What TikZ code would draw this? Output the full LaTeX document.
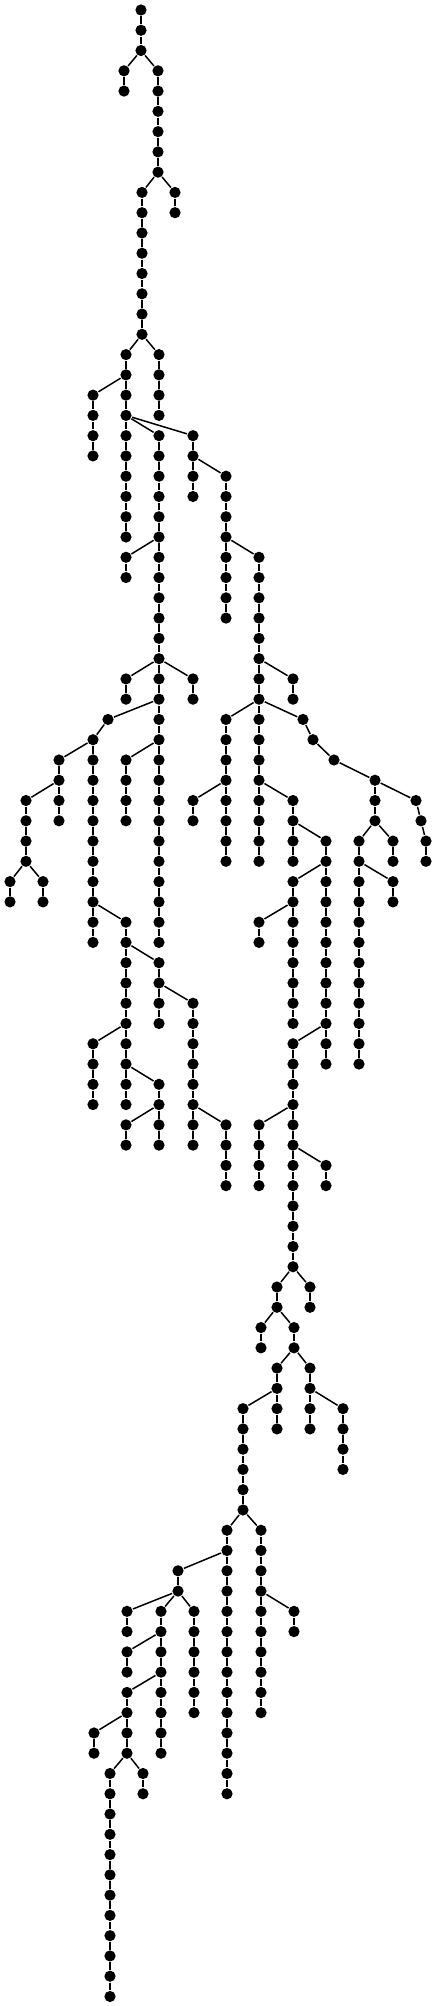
\documentclass[tikz,border=0pt]{standalone}
\usepackage{tikz}

\begin{document}
\begin{tikzpicture}[x=0.5pt, y=0.5pt, line width=0.75pt,
  dot/.style={circle, fill=black, draw=none, inner sep=0pt, minimum size=5.6pt}]
\useasboundingbox (0,0) rectangle (436,-2006);

% Nodes, one vertical run per entry: column / first level / last level
\foreach \c/\f/\t in {141/0/2, 124/3/4, 158/3/8, 175/9/10, 142/9/16,
    159/17/20, 126/17/26, 93/19/22, 159/21/46, 193/21/24, 226/23/30,
    126/27/28, 259/27/42, 126/33/34, 193/33/34, 293/33/34, 108/35/35,
    93/36/46, 59/37/40, 26/39/42, 10/43/44, 43/43/44, 126/37/40,
    226/35/42, 193/39/40, 303/35/35, 313/36/36, 334/37/37, 375/38/40,
    416/39/39, 421/40/40, 426/41/42, 293/39/42, 326/41/52, 293/43/50,
    259/45/46, 359/41/52, 393/41/42, 393/43/44, 126/45/54, 159/47/50,
    193/49/56, 93/51/54, 159/53/56, 126/55/56, 226/55/58, 293/51/62,
    259/55/58, 326/57/58, 310/63/64, 277/63/64, 261/65/66, 294/65/66,
    277/67/70, 310/67/70, 343/69/72, 243/69/74, 227/75/88, 261/75/84,
    294/79/80, 178/77/78, 127/79/80, 161/79/86, 194/79/84, 127/81/82,
    127/83/86, 94/85/86, 110/87/98, 143/87/88}{
  \foreach \l in {\f,...,\t}
    \node[dot] (n\c-\l) at (\c,{-10-20.27*\l}) {};
  \ifnum\f<\t
    \pgfmathtruncatemacro\s{\f+1}
    \foreach \l in {\s,...,\t}{
      \pgfmathtruncatemacro\p{\l-1}
      \draw (n\c-\p) -- (n\c-\l);
    }
  \fi
}

% Branches: parent column / parent level / child column
\foreach \a/\p/\b in {141/2/124, 141/2/158, 158/8/142, 158/8/175,
    142/16/126, 142/16/159, 126/18/93, 126/20/159, 126/20/193,
    193/22/226, 159/26/126, 226/26/259, 159/32/126, 159/32/193,
    259/32/293, 159/34/108, 259/34/226, 259/34/303, 108/35/93,
    159/36/126, 303/35/313, 93/36/59, 313/36/334, 334/37/375,
    59/38/26, 226/38/193, 259/38/293, 375/38/416, 416/39/421,
    293/40/326, 375/40/359, 375/40/393, 421/40/426, 26/42/10, 26/42/43,
    326/42/293, 359/42/393, 93/44/126, 293/44/259, 126/46/159,
    159/48/193, 126/50/93, 326/50/293, 126/52/159, 159/54/126,
    193/54/226, 293/54/259, 293/56/326, 293/62/277, 293/62/310,
    277/64/261, 277/64/294, 294/66/277, 294/66/310, 277/68/243,
    310/68/343, 243/74/227, 243/74/261, 227/76/178, 178/78/127,
    178/78/161, 178/78/194, 261/78/294, 161/80/127, 161/82/127,
    127/84/94, 127/86/110, 127/86/143}{
  \pgfmathtruncatemacro\q{\p+1}
  \draw (n\a-\p) -- (n\b-\q);
}
\end{tikzpicture}
\end{document}
